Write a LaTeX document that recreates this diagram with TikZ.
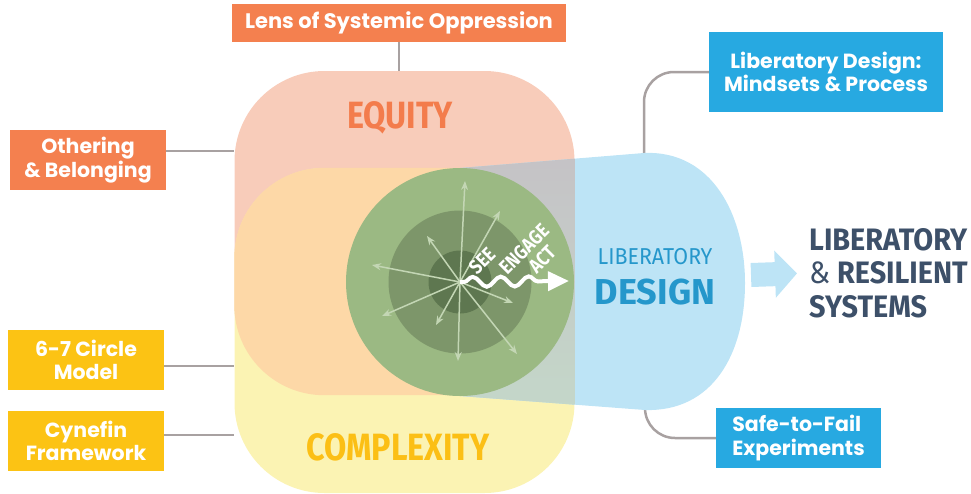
\documentclass[tikz,border=0pt]{standalone}
\usepackage{fontspec}
\usepackage{graphicx}
\setmainfont{Fira Sans}
\newfontfamily\boxfont{Poppins}
\usetikzlibrary{arrows.meta,decorations.pathmorphing,backgrounds}

\definecolor{boxorange}{HTML}{F4804F}
\definecolor{boxyellow}{HTML}{FCC314}
\definecolor{boxblue}{HTML}{27A9E1}
\definecolor{conngray}{HTML}{A8A1A1}
\definecolor{eqpink}{HTML}{F8CCBA}
\definecolor{cxyellow}{HTML}{FBF3B3}
\definecolor{overlap}{HTML}{FDD8A7}
\definecolor{ldblue}{HTML}{BDE4F6}
\definecolor{graytop}{HTML}{C5C2C6}
\definecolor{graybot}{HTML}{C4D8C9}
\definecolor{greenA}{HTML}{9BB983}
\definecolor{greenB}{HTML}{7D966A}
\definecolor{greenC}{HTML}{5E7750}
\definecolor{raygreen}{HTML}{C3D6B4}
\definecolor{eqtext}{HTML}{F37C4C}
\definecolor{cxtext}{HTML}{FBBF15}
\definecolor{ldtext}{HTML}{2597CB}
\definecolor{systext}{HTML}{3D5069}

\tikzset{
  box/.style={minimum width=156pt,minimum height=60pt,inner sep=0pt,text=white,
    font=\boxfont\bfseries\fontsize{20.5}{23.5}\selectfont,align=center},
  conn/.style={draw=conngray,line width=2.5pt},
  zone/.style={rectangle,rounded corners=90pt,minimum width=340pt,inner sep=0pt},
  disc/.style={circle,inner sep=0pt},
  ray/.style={draw=raygreen,line width=1.5pt,-{Stealth[length=9pt,width=7pt]}},
  wave/.style={draw=white,line width=4pt,decorate,
    decoration={snake,amplitude=5pt,segment length=28pt,pre length=4pt,post length=18pt},
    -{Triangle[length=21pt,width=19pt]}},
  stage/.style={text=white,inner sep=0pt,font=\bfseries\fontsize{20}{20}\selectfont},
  head/.style={inner sep=0pt,font=\bfseries\fontsize{38}{40}\selectfont}
}

\begin{document}
\begin{tikzpicture}[x=1pt,y=-1pt]
\useasboundingbox (0,0) rectangle (971,493);

% the two lenses
\node[zone,fill=eqpink,minimum height=324pt] (equity) at (404.5,233) {};
\node[zone,fill=cxyellow,minimum height=325pt] (complexity) at (404.5,330.5) {};
\begin{scope}
  \clip[rounded corners=90pt] (equity.south west) rectangle (equity.north east);
  \fill[overlap,rounded corners=90pt] (complexity.south west) rectangle (complexity.north east);
\end{scope}

% liberatory design funnel
\coordinate (ldtop) at (644,153);
\coordinate (ldbot) at (645,410);
\fill[ldblue] (460,168) -- (ldtop) .. controls (712,150) and (745,215) .. (745,283)
  .. controls (745,355) and (712,412) .. (ldbot) -- (460,396) -- cycle;
\begin{scope}
  \clip (460,150) rectangle (574.5,420);
  \clip (460,168) -- (ldtop) .. controls (712,150) and (745,215) .. (745,283)
    .. controls (745,355) and (712,412) .. (ldbot) -- (460,396) -- cycle;
  \shade[top color=graytop,bottom color=graybot] (460,150) rectangle (575,420);
\end{scope}

% circles
\node[disc,fill=greenA,minimum size=228pt] (outer) at (460,282) {};
\node[disc,fill=greenB,minimum size=143pt] (middle) at (outer.center) {};
\node[disc,fill=greenC,minimum size=63pt] (inner) at (outer.center) {};
\coordinate (core) at (outer.center);

\foreach \dx/\dy in {5/-101,40/-71,-33/-46,-88/-17,-78/34,-24/43,-2/79,57/72,53/21}
  \draw[ray] (core) -- ++(\dx,\dy);

\coordinate (wavetip) at (569,281);
\draw[wave] (core) -- (wavetip);

\node[stage,rotate=45] (see) at (482,261) {\scalebox{.85}[1]{SEE}};
\node[stage,rotate=45] (engage) at (524,249) {\scalebox{.85}[1]{ENGAGE}};
\node[stage,rotate=45] (act) at (542,259) {\scalebox{.85}[1]{ACT}};

% labels
\node[head,text=eqtext] (eqlabel) at (400,118) {\scalebox{.85}[1]{EQUITY}};
\node[head,text=cxtext] (cxlabel) at (398,447) {\scalebox{.85}[1]{COMPLEXITY}};
\node[inner sep=0pt,text=ldtext,font=\fontsize{23}{23}\selectfont] (ldword) at (655,257) {\scalebox{.93}[1]{LIBERATORY}};
\node[inner sep=0pt,text=ldtext,font=\bfseries\fontsize{36}{36}\selectfont] (ldbig) at (655,292.5) {DESIGN};

\node[inner sep=0pt,anchor=west,align=left,text=systext,font=\bfseries\fontsize{31}{33.5}\selectfont] (systems) at (809,273)
  {\scalebox{.93}[1]{LIBERATORY}\\\scalebox{.93}[1]{{\mdseries\&} RESILIENT}\\\scalebox{.93}[1]{SYSTEMS}};

\coordinate (ldarr) at (751,275);
\draw[draw=ldblue,line width=24pt,-{Triangle[length=22pt,width=46pt]},shorten >=12pt] (ldarr) -- (systems.west);

% boxes
\node[box,fill=boxorange,minimum width=334pt,minimum height=38pt,font=\boxfont\bfseries\fontsize{21}{23.5}\selectfont] (lens) at (399,23) {Lens of Systemic Oppression};
\node[box,fill=boxorange] (othering) at (88,160) {Othering\\\& Belonging};
\node[box,fill=boxyellow] (circlemodel) at (86,360) {6-7 Circle\\Model};
\node[box,fill=boxyellow] (cynefin) at (86,441) {Cynefin\\Framework};
\node[box,fill=boxblue,minimum width=234pt,minimum height=80pt] (mindsets) at (826,72) {Liberatory Design:\\Mindsets \& Process};
\node[box,fill=boxblue,minimum width=165pt,align=left] (safe) at (798.5,438) {Safe-to-Fail\\Experiments};

\begin{pgfonlayer}{background}
\draw[conn] (lens) -- (lens.south |- equity.north);
\draw[conn] ([yshift=9pt]othering.east) -- ([yshift=9pt]othering.east -| equity.west);
\draw[conn] ([yshift=-6pt]circlemodel.east) -- ([yshift=-6pt]circlemodel.east -| complexity.west);
\draw[conn] ([yshift=6pt]cynefin.east) -- ([yshift=6pt]cynefin.east -| complexity.west);
\draw[conn,rounded corners=30pt] (mindsets.west) -| (ldtop);
\draw[conn,rounded corners=30pt] (safe.west) -| (ldbot);
\end{pgfonlayer}

\end{tikzpicture}
\end{document}
